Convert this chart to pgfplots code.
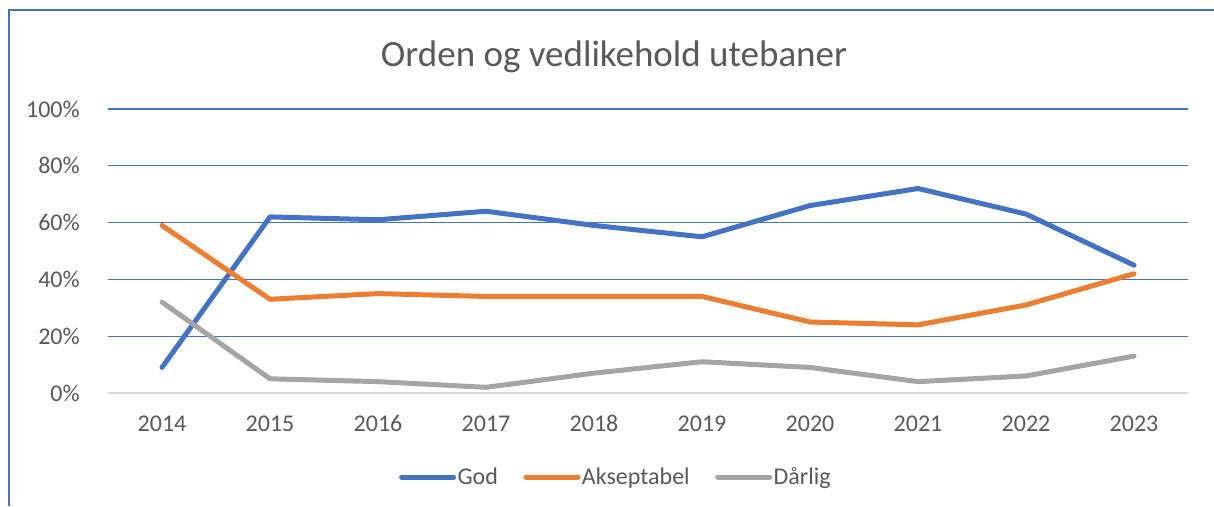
\documentclass[border=0pt]{standalone}
\usepackage{fontspec}
\setmainfont{Carlito}
\usepackage{pgfplots}
\pgfplotsset{compat=1.18}
\definecolor{cblue}{HTML}{4472C4}
\definecolor{corange}{HTML}{ED7D31}
\definecolor{cgray}{HTML}{A5A5A5}
\definecolor{ctext}{HTML}{595959}
\definecolor{czero}{HTML}{D9D9D9}
\begin{document}
\begin{tikzpicture}[x=1pt,y=1pt]
\path[use as bounding box] (0,0) rectangle (1214,506);
\draw[cblue, line width=1.3pt] (9,0) -- (9,496) -- (1214,496);
\node[anchor=base, text=ctext, font=\fontsize{37}{44}\selectfont, inner sep=0] at (614,439.3) {Orden og vedlikehold utebaner};
\begin{axis}[
  at={(108pt,113pt)}, anchor=south west,
  scale only axis, width=1080pt, height=284pt,
  xmin=-0.5, xmax=9.5, ymin=0, ymax=100,
  axis line style={draw=none}, tick style={draw=none},
  xtick={0,...,9},
  xticklabels={2014,2015,2016,2017,2018,2019,2020,2021,2022,2023},
  ytick={20,40,60,80,100},
  extra y ticks={0},
  extra y tick style={grid style={czero, line width=1.6pt}},
  ymajorgrids,
  grid style={cblue, line width=1.3pt},
  yticklabel={\pgfmathprintnumber{\tick}\%},
  /pgf/number format/assume math mode=true,
  tick label style={text=ctext, font=\fontsize{24}{29}\selectfont, inner sep=0pt},
  yticklabel style={anchor=east, xshift=-28pt},
  xticklabel style={anchor=base, yshift=-38.7pt},
  legend style={at={(0.470,-0.296)}, anchor=center, draw=none, fill=none,
    legend columns=-1, font=\fontsize{24}{29}\selectfont, text=ctext,
    nodes={inner sep=1.5pt},
    /tikz/every even column/.append style={column sep=24pt}},
  legend image code/.code={\draw[#1] (0pt,0pt) -- (52pt,0pt);},
  every axis plot/.append style={line width=5pt, line cap=round, line join=round},
]
\addplot[cblue] coordinates {(0,9) (1,62) (2,61) (3,64) (4,59) (5,55) (6,66) (7,72) (8,63) (9,45)};
\addlegendentry{God}
\addplot[corange] coordinates {(0,59) (1,33) (2,35) (3,34) (4,34) (5,34) (6,25) (7,24) (8,31) (9,42)};
\addlegendentry{Akseptabel}
\addplot[cgray] coordinates {(0,32) (1,5) (2,4) (3,2) (4,7) (5,11) (6,9) (7,4) (8,6) (9,13)};
\addlegendentry{Dårlig}
\end{axis}
\end{tikzpicture}
\end{document}
